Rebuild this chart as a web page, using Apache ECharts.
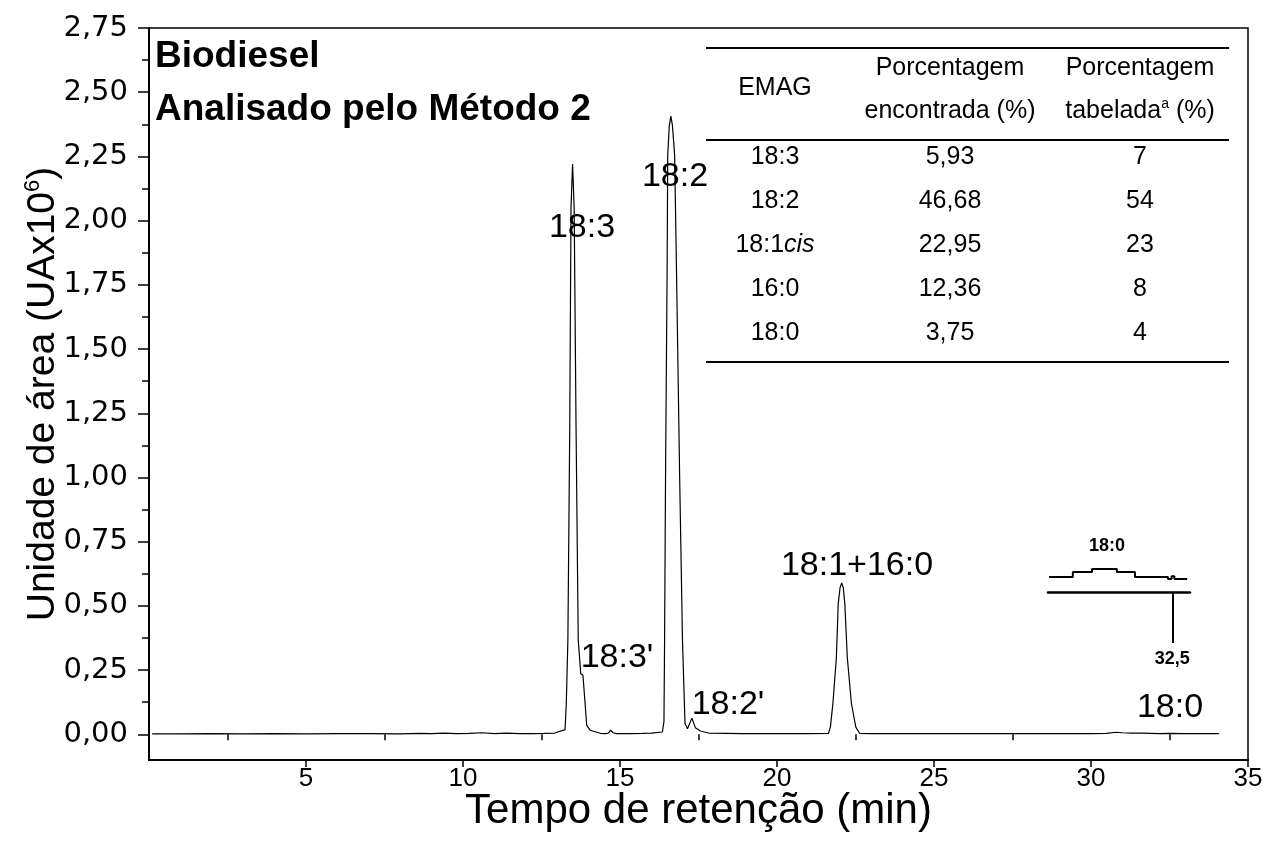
<!DOCTYPE html>
<html>
<head>
<meta charset="utf-8">
<script src="https://cdn.jsdelivr.net/npm/echarts@6/dist/echarts.min.js"></script>
<style>
  html, body { margin: 0; padding: 0; background: #fff; }
  #chart { width: 1266px; height: 848px; }
</style>
</head>
<body>
<div id="chart"></div>
<script>
// ==================
// dados do cromatograma
// ==================
const tempo = [0.1, 1.0, 2.0, 3.0, 4.0, 5.0, 6.0, 7.0, 8.0, 8.6, 9.0, 9.4, 9.8, 10.2, 10.6, 11.0, 11.4, 11.8, 12.2, 12.6,
  12.92, 13.25, 13.29, 13.34, 13.40, 13.44, 13.49, 13.54, 13.60, 13.67, 13.75, 13.79, 13.82, 13.94, 14.05, 14.37,
  14.55, 14.63, 14.70, 14.78, 14.90, 15.3, 15.7, 16.0, 16.35, 16.40, 16.42, 16.45, 16.50, 16.52, 16.57, 16.62, 16.67,
  16.74, 16.80, 16.90, 16.99, 17.07, 17.15, 17.29, 17.40, 17.56, 17.82, 18.9, 20.0, 21.0, 21.64, 21.70, 21.78, 21.89,
  21.95, 22.01, 22.06, 22.11, 22.16, 22.24, 22.37, 22.51, 22.63, 23.0, 24.0, 25.0, 26.0, 27.0, 28.0, 29.0, 30.0, 30.5,
  30.8, 31.0, 31.3, 31.6, 31.9, 32.2, 32.5, 33.0, 33.5, 34.08];
const area = [0.002, 0.002, 0.003, 0.002, 0.003, 0.002, 0.003, 0.003, 0.002, 0.004, 0.003, 0.005, 0.003, 0.004, 0.006, 0.003, 0.005, 0.003, 0.003, 0.004,
  0.005, 0.018, 0.12, 0.366, 1.2, 2.05, 2.22, 2.05, 1.2, 0.366, 0.236, 0.243, 0.23, 0.035, 0.016, 0.004,
  0.003, 0.005, 0.016, 0.006, 0.003, 0.003, 0.004, 0.005, 0.009, 0.05, 0.366, 1.0, 1.8, 2.255, 2.37, 2.407, 2.37,
  2.255, 1.8, 1.0, 0.366, 0.042, 0.022, 0.063, 0.026, 0.013, 0.005, 0.003, 0.003, 0.003, 0.004, 0.028, 0.12, 0.297,
  0.509, 0.572, 0.589, 0.572, 0.509, 0.297, 0.12, 0.028, 0.004, 0.003, 0.003, 0.003, 0.003, 0.003, 0.003, 0.003, 0.003, 0.004,
  0.008, 0.006, 0.005, 0.005, 0.004, 0.003, 0.004, 0.003, 0.003, 0.003];

// detalhe (inserto) do pico 18:0
const tempoInserto = [29.03, 29.70, 30.24, 30.94, 31.45, 32.38, 32.48, 32.56, 32.92];
const sinalInserto = [0.56, 0.74, 0.85, 0.74, 0.56, 0.48, 0.58, 0.48, 0.48];

// ticks
const yTicks = [0, 0.25, 0.5, 0.75, 1.0, 1.25, 1.5, 1.75, 2.0, 2.25, 2.5, 2.75];
const yMinor = [0.125, 0.375, 0.625, 0.875, 1.125, 1.375, 1.625, 1.875, 2.125, 2.375, 2.625];
const xTicks = [5, 10, 15, 20, 25, 30, 35];
const xMinor = [2.5, 7.5, 12.5, 17.5, 22.5, 27.5, 32.5];

// tabela
const emag = ['18:3', '18:2', '18:1cis', '16:0', '18:0'];
const encontrada = [5.93, 46.68, 22.95, 12.36, 3.75];
const tabelada = [7, 54, 23, 8, 4];

// rótulos dos picos
const picos = ['18:3', '18:2', "18:3'", "18:2'", '18:1+16:0', '18:0'];

const FONT = '"Liberation Sans", Arial, Helvetica, sans-serif';
const FONT_Y = '"DejaVu Sans", "Liberation Sans", sans-serif';
const virgula = (v, d) => v.toFixed(d).replace('.', ',');

function txt(x, y, text, size, extra) {
  return {
    type: 'text', x: x, y: y, z: 100,
    style: Object.assign({
      text: text, fill: '#000',
      font: size + 'px ' + FONT,
      textAlign: 'center', textVerticalAlign: 'middle',
      align: 'center', verticalAlign: 'middle'
    }, extra || {})
  };
}
function hline(x1, x2, y, w) {
  return { type: 'line', z: 100, shape: { x1: x1, y1: y, x2: x2, y2: y }, style: { stroke: '#000', lineWidth: w || 2 } };
}

let graphics = [];
// título
graphics.push(txt(155, 57, 'Biodiesel', 37, { font: 'bold 37px ' + FONT, textAlign: 'left', align: 'left' }));
graphics.push(txt(155, 110, 'Analisado pelo Método 2', 37, { font: 'bold 37px ' + FONT, textAlign: 'left', align: 'left' }));

// rótulos dos picos
const picoPos = [[582, 228], [675, 177], [617, 658], [728, 705], [857, 566], [1170, 708]];
picos.forEach((p, i) => graphics.push(txt(picoPos[i][0], picoPos[i][1], p, 34)));

// tabela
const TF = 25;
const colX = [775, 950, 1140];
graphics.push(hline(706, 1229, 48));
graphics.push(hline(706, 1229, 140));
graphics.push(hline(706, 1229, 362));
graphics.push(txt(colX[0], 88, 'EMAG', TF));
graphics.push(txt(colX[1], 68, 'Porcentagem', TF));
graphics.push(txt(colX[1], 111, 'encontrada (%)', TF));
graphics.push(txt(colX[2], 68, 'Porcentagem', TF));
graphics.push(txt(colX[2], 111, '{n|tabelada}{s|a}{n| (%)}', TF, {
  rich: {
    n: { fontSize: TF, fontFamily: FONT, lineHeight: 30 },
    s: { fontSize: 14, fontFamily: FONT, lineHeight: 30, padding: [0, 0, 14, 0] }
  }
}));
emag.forEach((e, i) => {
  const y = 157 + i * 44;
  const rot = e.endsWith('cis')
    ? '{n|' + e.replace('cis', '') + '}{i|cis}'
    : e;
  graphics.push(txt(colX[0], y, rot, TF, {
    rich: {
      n: { fontSize: TF, fontFamily: FONT },
      i: { fontSize: TF, fontFamily: FONT, fontStyle: 'italic' }
    }
  }));
  graphics.push(txt(colX[1], y, virgula(encontrada[i], 2), TF));
  graphics.push(txt(colX[2], y, String(tabelada[i]), TF));
});

// inserto
graphics.push(txt(1107, 546, '18:0', 18, { font: 'bold 18px ' + FONT }));

const chart = echarts.init(document.getElementById('chart'));

const option = {
  animation: false,
  backgroundColor: '#fff',
  textStyle: { fontFamily: FONT, color: '#000' },
  grid: [
    { left: 149, right: 18, top: 28, bottom: 88, show: true, borderColor: '#000', borderWidth: 1.5, backgroundColor: 'transparent' },
    { left: 1048, top: 565, width: 142, height: 27 }
  ],
  xAxis: [
    {
      type: 'value', gridIndex: 0, min: 0, max: 35, position: 'bottom',
      name: 'Tempo de retenção (min)', nameLocation: 'middle', nameGap: 30, nameMoveOverlap: false,
      nameTextStyle: { fontSize: 42, fontFamily: FONT, color: '#000', verticalAlign: 'top' },
      axisLine: { show: true, onZero: false, lineStyle: { color: '#000', width: 2 } },
      axisTick: { show: true, customValues: xTicks, length: 7, lineStyle: { color: '#000', width: 1.5 } },
      axisLabel: { customValues: xTicks, fontSize: 26, fontFamily: FONT, color: '#000', margin: 6 },
      splitLine: { show: false }
    },
    {
      type: 'value', gridIndex: 0, min: 0, max: 35, position: 'bottom',
      axisLine: { show: false },
      axisTick: { show: true, customValues: xMinor, length: 6, lineStyle: { color: '#000', width: 1.5 } },
      axisLabel: { show: false },
      splitLine: { show: false }
    },
    {
      type: 'value', gridIndex: 1, min: 29, max: 33, position: 'bottom',
      axisLine: { show: true, onZero: false, lineStyle: { color: '#000', width: 2.5 } },
      axisTick: { show: true, customValues: [32.5], length: 51, lineStyle: { color: '#000', width: 2 } },
      axisLabel: {
        customValues: [32.5], margin: 58, fontSize: 18, fontWeight: 'bold', fontFamily: FONT, color: '#000',
        formatter: v => virgula(v, 1)
      },
      splitLine: { show: false }
    }
  ],
  yAxis: [
    {
      type: 'value', gridIndex: 0, min: -0.1, max: 2.75, position: 'left',
      name: '{a|Unidade de área (UAx10}{s|6}{a|)}', nameLocation: 'middle', nameGap: 84, nameMoveOverlap: false,
      nameTextStyle: {
        rich: {
          a: { fontSize: 39, fontFamily: FONT, color: '#000', lineHeight: 44 },
          s: { fontSize: 22, fontFamily: FONT, color: '#000', lineHeight: 44, padding: [0, 0, 20, 0] }
        }
      },
      axisLine: { show: true, onZero: false, lineStyle: { color: '#000', width: 2 } },
      axisTick: { show: true, customValues: yTicks, length: 11, lineStyle: { color: '#000', width: 1.5 } },
      axisLabel: {
        customValues: yTicks, fontSize: 29, fontFamily: FONT_Y, color: '#000', margin: 21,
        formatter: v => virgula(v, 2)
      },
      splitLine: { show: false }
    },
    {
      type: 'value', gridIndex: 0, min: -0.1, max: 2.75, position: 'left',
      axisLine: { show: false },
      axisTick: { show: true, customValues: yMinor, length: 7, lineStyle: { color: '#000', width: 1.5 } },
      axisLabel: { show: false },
      splitLine: { show: false }
    },
    {
      type: 'value', gridIndex: 1, min: 0, max: 1, show: false
    }
  ],
  series: [
    {
      name: 'Biodiesel', type: 'line', xAxisIndex: 0, yAxisIndex: 0,
      showSymbol: false, symbol: 'none', smooth: false,
      lineStyle: { color: '#000', width: 1.2 },
      data: tempo.map((t, i) => [t, area[i]])
    },
    {
      name: 'Inserto', type: 'line', xAxisIndex: 2, yAxisIndex: 2,
      showSymbol: false, symbol: 'none', step: 'end',
      lineStyle: { color: '#000', width: 2 },
      data: tempoInserto.map((t, i) => [t, sinalInserto[i]])
    }
  ],
  graphic: graphics
};

chart.setOption(option);
</script>
</body>
</html>
